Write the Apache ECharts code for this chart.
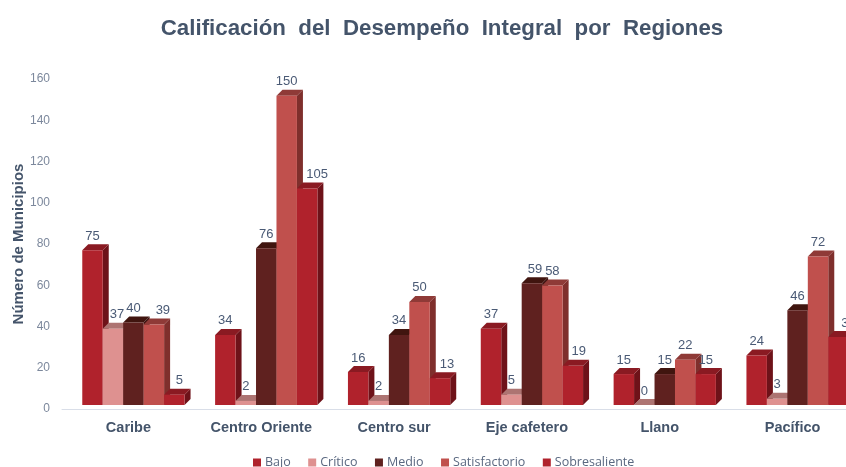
<!DOCTYPE html>
<html><head><meta charset="utf-8">
<style>html,body{margin:0;padding:0;background:#fff}#c{width:846px;height:467px}</style>
<script src="https://cdn.jsdelivr.net/npm/echarts@6/dist/echarts.min.js"></script>
</head><body><div id="c"></div>
<script>
const categories = ['Caribe','Centro Oriente','Centro sur','Eje cafetero','Llano','Pacífico'];
const yTicks = [0,20,40,60,80,100,120,140,160];
const bajo = [75,34,16,37,15,24];
const critico = [37,2,2,5,0,3];
const medio = [40,76,34,59,15,46];
const satisfactorio = [39,150,50,58,22,72];
const sobresaliente = [5,105,13,19,15,33];
const names = ['Bajo','Crítico','Medio','Satisfactorio','Sobresaliente'];
const values = [bajo,critico,medio,satisfactorio,sobresaliente];
const front = ['#B0222C','#DE9190','#5F211F','#C0504D','#B0222C'];
const side  = ['#6E1219','#A86B6A','#3E1311','#7F2F2C','#6E1219'];
const top3d = ['#8A1A22','#AD7472','#40150F','#8F3A37','#8A1A22'];
const labelShift = {'0,1':4,'0,3':9,'0,4':5,'1,4':10,'2,4':7,'3,2':3,'3,4':6,'5,4':10};

const chart = echarts.init(document.getElementById('c'),null,{renderer:'canvas'});
const D = 6, BASE = 4, XOFF = 5, RATIO = 0.154;
function render(si){
  return function(params, api){
    const cat = api.value(0), v = api.value(1);
    const p0 = api.coord([cat,0]), p1 = api.coord([cat,v]);
    const w = api.size([1,0])[0]*RATIO;
    const x = p0[0] + XOFF + (si-2.5)*w;
    const yb = p0[1]-BASE, yt = p1[1]-BASE;
    const shift = labelShift[cat+','+si] || 0;
    return {type:'group',children:[
      {type:'polygon',shape:{points:[[x+w,yb],[x+w+D,yb-D],[x+w+D,yt-D],[x+w,yt]]},style:{fill:side[si]}},
      {type:'polygon',shape:{points:[[x,yt],[x+D,yt-D],[x+w+D,yt-D],[x+w,yt]]},style:{fill:top3d[si]}},
      {type:'rect',shape:{x:x,y:yt,width:w,height:yb-yt},style:{fill:front[si]}},
      {type:'text',z2:10,style:{text:String(v),x:x+w/2+shift,y:yt-D-8,align:'center',verticalAlign:'middle',
        font:'13px "Liberation Sans"',fill:'#4A5A75'}}
    ]};
  };
}
chart.setOption({
  animation:false,
  title:{text:'Calificación  del  Desempeño  Integral  por  Regiones',left:437,top:13,textAlign:'center',
    textStyle:{fontFamily:'Liberation Sans',fontWeight:'bold',fontSize:22.3,color:'#44546A'}},
  legend:{data:names,top:451,left:248,itemWidth:8,itemHeight:8,itemGap:17.5,icon:'rect',
    textStyle:{fontFamily:'Open Sans',fontSize:12.5,color:'#5A6880',padding:[0,0,0,-1]}},
  grid:{left:62,top:79,width:797,height:330,outerBoundsMode:'none'},
  xAxis:{type:'category',data:categories,axisTick:{show:false},
    axisLine:{lineStyle:{color:'#D9DEE8',width:1}},
    axisLabel:{interval:0,margin:11,fontFamily:'Liberation Sans',fontWeight:'bold',fontSize:14.5,color:'#44546A'}},
  yAxis:{type:'value',min:yTicks[0],max:yTicks[yTicks.length-1],interval:20,
    splitLine:{show:false},axisLine:{show:false},axisTick:{show:false},
    axisLabel:{margin:12,fontFamily:'Liberation Sans',fontSize:12,color:'#7C889C'},
    name:'Número de Municipios',nameLocation:'middle',nameGap:36,nameRotate:90,nameMoveOverlap:false,
    nameTextStyle:{fontFamily:'Liberation Sans',fontWeight:'bold',fontSize:15,color:'#44546A'}},
  series:names.map((n,si)=>({
    type:'custom',name:n,clip:false,coordinateSystem:'cartesian2d',
    itemStyle:{color:front[si]},
    encode:{x:0,y:1},
    data:values[si].map((v,i)=>[i,v]),
    renderItem:render(si)
  }))
});
</script></body></html>
